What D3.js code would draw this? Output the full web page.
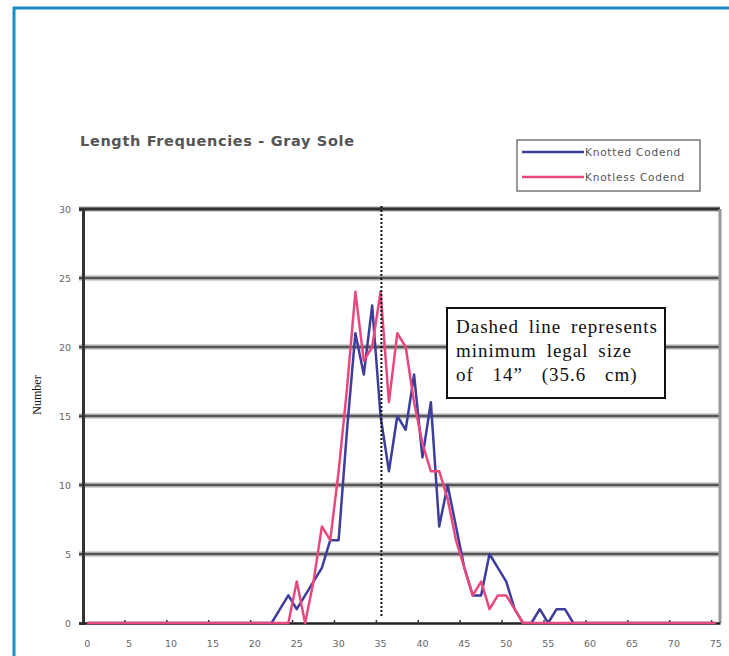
<!DOCTYPE html>
<html><head><meta charset="utf-8">
<script src="https://cdn.jsdelivr.net/npm/d3@7"></script>
<style>html,body{margin:0;padding:0;background:#fff;}svg{display:block;}</style>
</head><body>
<svg id="chart" width="729" height="656"></svg>
<script>
// ---------- data ----------
const categories = d3.range(0, 76); // length classes (cm), 0..75
const knotted = [0,0,0,0,0,0,0,0,0,0, 0,0,0,0,0,0,0,0,0,0,
  0,0,0,1,2,1,2,3,4,6, 6,14,21,18,23,15,11,15,14,18,
  12,16,7,10,7,4,2,2,5,4, 3,1,0,0,1,0,1,1,0,0,
  0,0,0,0,0,0,0,0,0,0, 0,0,0,0,0,0];
const knotless = [0,0,0,0,0,0,0,0,0,0, 0,0,0,0,0,0,0,0,0,0,
  0,0,0,0,0,3,0,3,7,6, 11,17,24,19,20,24,16,21,20,16,
  13,11,11,9,6,4,2,3,1,2, 2,1,0,0,0,0,0,0,0,0,
  0,0,0,0,0,0,0,0,0,0, 0,0,0,0,0,0];
const seriesNames = ["Knotted Codend", "Knotless Codend"];
const xTickLabels = [0,5,10,15,20,25,30,35,40,45,50,55,60,65,70,75];
const yTicks = [0,5,10,15,20,25,30];
const minLegalSize = 35.6;
const titleText = "Length Frequencies - Gray Sole";
const yAxisTitle = "Number";
const noteLines = ["Dashed line represents", "minimum legal size", "of 14\u201D (35.6 cm)"];

// ---------- layout ----------
const svg = d3.select("#chart");
const L = 83, R = 720, T = 209, B = 623;
const x = d3.scaleBand().domain(categories).range([L, R]).paddingInner(0).paddingOuter(0);
const xLin = d3.scaleLinear().domain([0, categories.length]).range([L, R]);
const y = d3.scaleLinear().domain([0, 30]).range([B, T]);
const cx = c => x(c) + x.bandwidth() / 2;

// outer frame
svg.append("rect").attr("x", 14).attr("y", 8).attr("width", 760).attr("height", 700)
  .attr("fill", "none").attr("stroke", "#1a8cc8").attr("stroke-width", 3);

// title
svg.append("text").attr("x", 80).attr("y", 146).text(titleText)
  .attr("font-family", "DejaVu Sans").attr("font-weight", "bold").attr("font-size", 14.5)
  .attr("textLength", 274).attr("lengthAdjust", "spacing")
  .attr("fill", "#555");

// legend
const lg = svg.append("g");
lg.append("rect").attr("x", 517).attr("y", 140).attr("width", 183).attr("height", 51)
  .attr("fill", "#fff").attr("stroke", "#777").attr("stroke-width", 1.5);
const colors = ["#3d3d9c", "#e8487e"];
seriesNames.forEach((n, i) => {
  const yy = 152 + i * 25;
  lg.append("line").attr("x1", 522).attr("x2", 584).attr("y1", yy).attr("y2", yy)
    .attr("stroke", colors[i]).attr("stroke-width", 2.5);
  lg.append("text").attr("x", 585).attr("y", yy + 4).text(n)
    .attr("font-family", "DejaVu Sans").attr("font-size", 10.5).attr("letter-spacing", 0.8)
    .attr("fill", "#555");
});

// gridlines
const grid = svg.append("g");
yTicks.forEach(t => {
  if (t === 0) return;
  grid.append("line").attr("x1", L - 4).attr("x2", R).attr("y1", y(t)).attr("y2", y(t))
    .attr("stroke", "#aaa").attr("stroke-width", 5);
  grid.append("line").attr("x1", L - 4).attr("x2", R).attr("y1", y(t)).attr("y2", y(t))
    .attr("stroke", t === 30 ? "#333" : "#555").attr("stroke-width", t === 30 ? 3 : 2);
});
// right border
svg.append("line").attr("x1", R).attr("x2", R).attr("y1", T).attr("y2", B)
  .attr("stroke", "#999").attr("stroke-width", 3);

// y axis
const yAxis = d3.axisLeft(y).tickValues(yTicks).tickSize(4).tickPadding(8);
const gy = svg.append("g").attr("transform", `translate(${L},0)`).call(yAxis);
gy.select(".domain").attr("stroke", "#333").attr("stroke-width", 3);
gy.selectAll(".tick line").attr("stroke", "#333");
gy.selectAll("text").attr("font-family", "DejaVu Sans").attr("font-size", 9.5).attr("fill", "#666");

// x axis
const xAxis = d3.axisBottom(x).tickValues(xTickLabels).tickSize(0).tickPadding(17);
const gx = svg.append("g").attr("transform", `translate(0,${B})`).call(xAxis);
gx.select(".domain").attr("stroke", "#222").attr("stroke-width", 2.5);
gx.selectAll("text").attr("font-family", "DejaVu Sans").attr("font-size", 9.5).attr("fill", "#666");
// tick marks at category boundaries every 5
svg.append("g").selectAll("line").data(xTickLabels.slice(1)).join("line")
  .attr("x1", d => xLin(d)).attr("x2", d => xLin(d)).attr("y1", B - 3).attr("y2", B + 1)
  .attr("stroke", "#333").attr("stroke-width", 1.5);

// y axis title
svg.append("text").attr("transform", "translate(41,395) rotate(-90)").attr("text-anchor", "middle")
  .text(yAxisTitle).attr("font-family", "Liberation Serif").attr("font-size", 12).attr("fill", "#111");

// series lines
const line = d3.line().x((d, i) => cx(categories[i])).y(d => y(d));
[knotted, knotless].forEach((s, i) => {
  svg.append("path").datum(s).attr("d", line).attr("fill", "none")
    .attr("stroke", colors[i]).attr("stroke-width", 2.5).attr("stroke-linejoin", "round");
});

// minimum legal size line
svg.append("line").attr("x1", xLin(minLegalSize)).attr("x2", xLin(minLegalSize))
  .attr("y1", T - 3).attr("y2", B - 6)
  .attr("stroke", "#111").attr("stroke-width", 2).attr("stroke-dasharray", "2,2");

// note box
svg.append("rect").attr("x", 447).attr("y", 308).attr("width", 218).attr("height", 90)
  .attr("fill", "#fff").attr("stroke", "#111").attr("stroke-width", 2);
const wordSpacing = [4, 4, 13];
noteLines.forEach((t, i) => {
  svg.append("text").attr("x", 456).attr("y", 333 + i * 24).text(t)
    .attr("font-family", "Liberation Serif").attr("font-size", 19)
    .attr("letter-spacing", 1).attr("word-spacing", wordSpacing[i]).attr("fill", "#111");
});
</script>
</body></html>
